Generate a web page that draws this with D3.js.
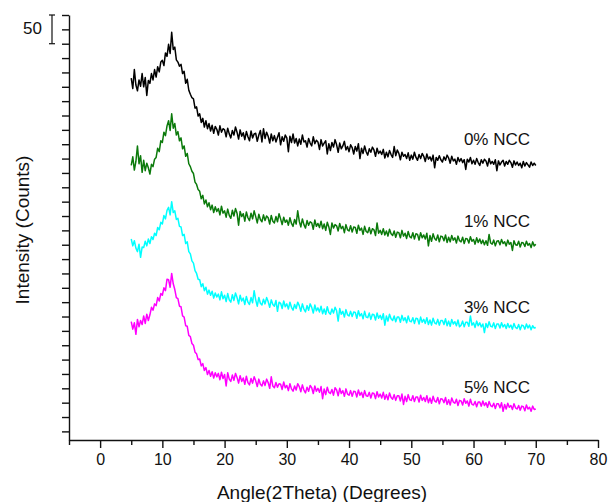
<!DOCTYPE html>
<html>
<head>
<meta charset="utf-8">
<script src="https://cdn.jsdelivr.net/npm/d3@7"></script>
<style>
  body { margin: 0; background: #fff; }
  svg { display: block; }
  text { font-family: "Liberation Sans", Arial, sans-serif; fill: #111; }
</style>
</head>
<body>
<svg id="chart" width="608" height="502"></svg>
<script>
// XRD scans, 2θ from 5° to 70° in 0.25° steps, intensities in counts (offset for stacking)
const angleStart = 5;
const angleStep = 0.25;

const ncc0 = [
  640,622,655,628, 618,637,626,648, 625,641,610,636, 631,648,637,655,
  642,660,651,668, 671,662,684,678, 699,683,720,690, 694,672,668,661,
  664,648,652,631, 638,619,612,606, 604,588,590,574, 578,563,570,555,
  566,552,561,548, 558,544,556,551, 541,557,546,552, 550,538,553,543,
  536,549,541,555, 546,534,550,539, 545,533,547,538, 531,548,536,543,
  544,530,541,549, 529,552,535,546, 539,527,543,531, 540,529,537,545,
  524,538,530,541, 536,512,539,528, 543,527,535,522, 534,525,541,529,
  531,520,535,527, 522,538,526,532, 529,516,533,522, 527,531,508,526,
  514,528,520,533, 524,511,527,517, 522,530,515,521, 512,524,519,508,
  521,513,526,500, 518,509,522,512, 506,517,511,520, 515,504,518,509,
  513,507,516,501, 511,503,514,507, 502,521,505,515, 509,498,511,504,
  507,500,510,497, 506,499,511,502, 497,507,500,509, 504,495,508,499,
  503,496,506,484, 502,497,505,498, 494,503,497,506, 501,492,504,496,
  499,490,502,495, 500,493,498,481, 499,494,502,491, 497,490,500,493,
  488,498,492,499, 496,487,500,491, 495,490,498,479, 496,489,494,497,
  487,495,490,497, 493,485,496,489, 494,488,492,484, 495,487,493,489,
  485,494,488,492, 488
];

const ncc1 = [
  488,503,480,495, 522,491,505,476, 497,479,492,484, 473,490,486,499,
  502,518,512,531, 528,546,540,557, 566,549,578,553, 561,541,547,531,
  536,517,522,504, 509,491,486,478, 474,459,455,446, 443,430,436,421,
  428,416,423,411, 419,406,416,408, 413,402,417,405, 409,398,412,401,
  396,410,400,413, 405,384,408,399, 404,391,407,397, 392,405,395,409,
  399,388,403,394, 390,402,392,400, 397,386,401,391, 388,399,390,404,
  395,385,398,389, 393,384,397,387, 382,394,386,409, 391,381,395,385,
  379,392,384,390, 388,377,393,382, 387,380,391,378, 386,375,389,381,
  368,388,379,385, 383,374,387,378, 382,371,385,376, 374,383,372,381,
  380,370,384,375, 379,368,382,373, 371,380,369,378, 376,366,388,370,
  375,368,378,367, 374,365,377,369, 366,374,363,372, 371,362,375,365,
  370,361,373,364, 362,371,360,369, 368,358,371,362, 367,360,370,348,
  366,356,369,361, 358,367,355,365, 364,357,367,354, 363,355,366,358,
  362,353,365,357, 355,363,352,361, 360,353,364,356, 359,351,362,354,
  360,352,358,350, 357,349,368,353, 351,358,348,356, 357,350,359,352,
  355,348,358,351, 354,340,357,350, 349,356,346,354, 353,347,356,349,
  352,345,355,348, 351
];

const ncc3 = [
  360,348,357,344, 338,351,328,346, 345,356,348,360, 352,364,359,370,
  366,380,376,389, 386,401,395,410, 415,402,425,406, 409,394,396,382,
  381,366,368,352, 355,338,334,322, 318,305,300,290, 289,277,282,270,
  276,264,271,262, 269,257,266,259, 264,254,268,256, 262,251,265,254,
  250,263,253,266, 258,247,262,252, 257,246,260,250, 246,258,249,270,
  254,243,258,248, 245,255,247,258, 251,241,254,246, 243,253,234,250,
  248,239,252,242, 247,238,250,241, 236,246,239,250, 244,234,247,238,
  233,244,236,247, 241,231,245,235, 240,233,243,230, 238,229,242,232,
  229,238,231,241, 235,217,239,229, 234,224,237,228, 226,234,225,233,
  232,222,235,226, 230,221,234,224, 223,231,220,229, 228,219,231,222,
  227,220,230,210, 226,217,229,221, 218,226,216,224, 224,215,227,218,
  223,214,226,217, 216,223,213,222, 221,212,224,215, 220,213,223,211,
  219,210,222,214, 212,220,210,218, 218,211,221,209, 217,208,220,212,
  216,209,219,207, 210,217,207,215, 215,208,226,210, 214,206,217,209,
  214,207,212,197, 213,206,216,208, 207,214,204,212, 212,205,214,207,
  211,204,213,206, 210,203,213,206, 204,211,202,210, 209,203,212,205,
  210,202,209,205, 206
];

const ncc5 = [
  216,203,214,194, 220,207,218,211, 226,213,229,218, 228,241,236,247,
  244,258,252,265, 262,275,270,290, 289,276,300,282, 272,258,256,243,
  242,226,224,209, 208,192,190,178, 175,163,160,150, 151,139,143,131,
  136,124,131,121, 129,118,127,120, 126,115,128,117, 124,104,127,116,
  112,123,114,126, 119,109,122,112, 118,107,121,110, 106,117,109,120,
  113,103,116,107, 104,113,105,116, 110,100,120,104, 101,110,102,108,
  107,98,111,101, 105,96,108,99, 95,104,97,108, 103,94,106,97,
  92,102,95,105, 101,91,104,95, 100,93,103,82, 99,89,102,93,
  91,98,88,101, 97,87,100,91, 96,86,99,90, 88,96,86,95,
  94,85,97,88, 93,84,96,87, 86,93,83,92, 91,82,94,85,
  90,83,93,81, 89,80,92,84, 81,89,79,87, 87,78,90,72,
  86,77,89,80, 79,87,77,85, 85,76,88,79, 84,77,87,75,
  83,74,86,78, 76,84,73,82, 81,75,84,72, 80,71,83,76,
  74,81,70,79, 78,71,82,74, 78,69,81,72, 71,77,68,76,
  76,69,78,70, 75,67,77,70, 68,74,65,73, 73,66,75,60,
  72,64,74,67, 70,63,73,66, 64,70,62,69, 68,61,71,64,
  67,60,69,63, 64
];

const seriesNames = ["0% NCC", "1% NCC", "3% NCC", "5% NCC"];
const seriesValues = [ncc0, ncc1, ncc3, ncc5];
const seriesColors = ["#000000", "#0b7a0b", "#00ffff", "#ff00ff"];

const xMajorTicks = [0, 10, 20, 30, 40, 50, 60, 70, 80];
const xMinorTicks = [-5, 5, 15, 25, 35, 45, 55, 65, 75];
const yTickStep = 25;
const scaleBarSpan = 50;

const svg = d3.select("#chart");
const x = d3.scaleLinear().domain([-5, 80]).range([69, 598]);
const y = d3.scaleLinear().domain([10, 750]).range([440, 15]);

// stacked diffraction curves
const line = d3.line()
  .x((d, i) => x(angleStart + i * angleStep))
  .y(d => y(d));

svg.append("g").selectAll("path")
  .data(seriesValues)
  .join("path")
  .attr("fill", "none")
  .attr("stroke", (d, i) => seriesColors[i])
  .attr("stroke-width", 1.5)
  .attr("stroke-linejoin", "round")
  .attr("d", line);

// series labels sit just above the right end of each curve
const labelLift = [20, 17, 14, 16];
svg.append("g").selectAll("text")
  .data(seriesNames)
  .join("text")
  .attr("x", 530)
  .attr("y", (d, i) => y(seriesValues[i][seriesValues[i].length - 1]) - labelLift[i])
  .attr("text-anchor", "end")
  .attr("font-size", 17)
  .text(d => d);

// bottom axis: labelled tens plus short minor ticks at fives
const xAxis = svg.append("g")
  .attr("transform", "translate(0,440)")
  .call(d3.axisBottom(x).tickValues(xMajorTicks).tickSize(8).tickSizeOuter(0).tickPadding(6));
xAxis.selectAll("text").attr("font-size", 16).attr("font-family", null);

svg.append("g")
  .attr("transform", "translate(0,440)")
  .call(d3.axisBottom(x).tickValues(xMinorTicks).tickSize(5).tickSizeOuter(0).tickFormat(""))
  .select(".domain").remove();

// left axis: unlabelled ticks every 25 counts
svg.append("g")
  .attr("transform", "translate(69,0)")
  .call(d3.axisLeft(y).tickValues(d3.range(yTickStep, 751, yTickStep)).tickSize(7).tickSizeOuter(0).tickFormat(""));

svg.selectAll(".domain, .tick line")
  .attr("stroke", "#111")
  .attr("stroke-width", 1.4);

// intensity scale bar: 50 counts
const barX = 52;
const bar = svg.append("g").attr("stroke", "#111").attr("stroke-width", 1.2);
bar.append("line").attr("x1", barX).attr("x2", barX).attr("y1", y(750)).attr("y2", y(750 - scaleBarSpan));
bar.append("line").attr("x1", barX - 3).attr("x2", barX + 3).attr("y1", y(750)).attr("y2", y(750));
bar.append("line").attr("x1", barX - 3).attr("x2", barX + 3).attr("y1", y(750 - scaleBarSpan)).attr("y2", y(750 - scaleBarSpan));
svg.append("text")
  .attr("x", 42).attr("y", (y(750) + y(750 - scaleBarSpan)) / 2 + 5)
  .attr("text-anchor", "end")
  .attr("font-size", 17)
  .text(String(scaleBarSpan));

// axis titles
svg.append("text")
  .attr("x", 322).attr("y", 499)
  .attr("text-anchor", "middle")
  .attr("font-size", 19)
  .text("Angle(2Theta) (Degrees)");

svg.append("text")
  .attr("transform", "translate(29,230) rotate(-90)")
  .attr("text-anchor", "middle")
  .attr("font-size", 19)
  .text("Intensity (Counts)");
</script>
</body>
</html>
